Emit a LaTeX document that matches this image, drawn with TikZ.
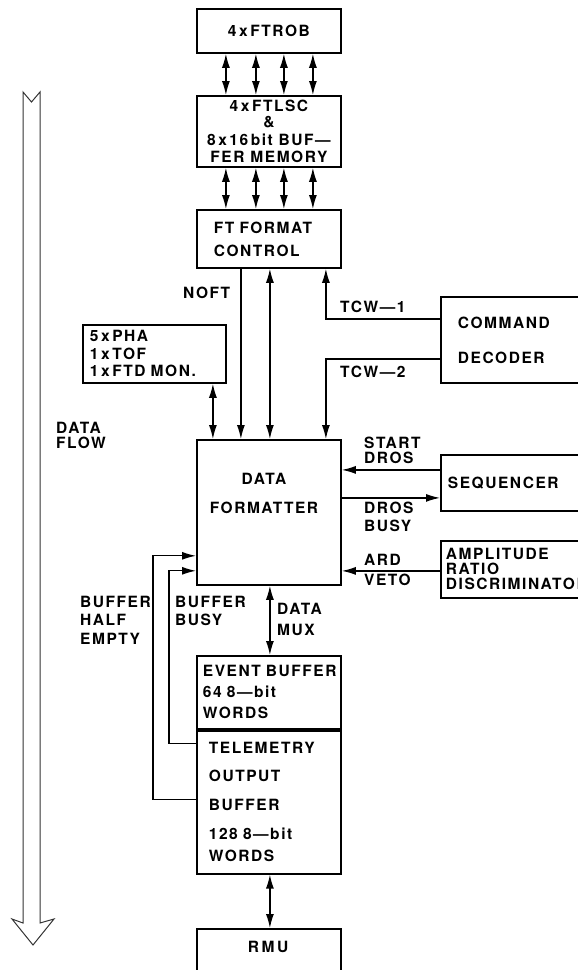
\documentclass[tikz,border=0pt]{standalone}
\usepackage{fontspec}
\newfontfamily\diagfont{TeX Gyre Heros}[LetterSpace=10,Ligatures=TeX]
\usetikzlibrary{arrows.meta,positioning}
\newcommand{\dfont}{\diagfont\bfseries\fontsize{15.5}{17.5}\selectfont}
\tikzset{
  blk/.style  = {draw, line width=1.8pt, inner sep=0pt, font=\dfont,
                 anchor=north west},
  txt/.style  = {font=\dfont, inner sep=0pt, align=left, anchor=west},
  arr/.style  = {-{Latex[length=14pt,width=8pt]}, line width=1.3pt},
  dbl/.style  = {{Latex[length=14pt,width=8pt]}-{Latex[length=14pt,width=8pt]},
                 line width=1.3pt},
  flow/.style = {line width=1pt, black!80, line join=miter},
}
\begin{document}
\begin{tikzpicture}[x=1pt,y=-1pt]
  \useasboundingbox (0,0) rectangle (578,970);
  \clip (0,0) rectangle (578,970);
  % front-end chain
  \node[blk, minimum width=144, minimum height=44] (ftrob) at (196,8) {4\,x\,FTROB};
  \node[blk, minimum width=144, minimum height=71, align=center] (ftlsc) at (196,95)
    {4\,x\,FTLSC\\[-1pt]\&\\8\,x\,16\,bit BUF---\\FER MEMORY};
  \node[blk, minimum width=144, minimum height=58, text width=110, align=left] (ftfc) at (196,209)
    {FT~FORMAT\\[5.5pt]CONTROL};
  \node[blk, minimum width=143, minimum height=58, text width=129, align=left] (pha) at (82,324)
    {5\,x\,PHA\\1\,x\,TOF\\1\,x\,FTD~MON.};
  % right hand units
  \node[blk, minimum width=200, minimum height=86, text width=166, align=left] (cmd) at (440,296)
    {COMMAND\\[17.5pt]DECODER};
  \node[blk, minimum width=200, minimum height=56, text width=186, align=left] (seq) at (440,454)
    {SEQUENCER};
  \node[blk, minimum width=200, minimum height=57, text width=190, align=left] (amp) at (440,540)
    {AMPLITUDE\\[-2.5pt]RATIO\\[-2.5pt]DISCRIMINATOR};
  % formatter and buffers
  \node[blk, minimum width=144, minimum height=145] (dfmt) at (196,439) {};
  \node[txt, align=center, anchor=center] (dfmtlbl) at (264,493.5) {DATA\\[11.5pt]FORMATTER};
  \node[blk, minimum width=144, minimum height=73, text width=132, align=left] (evb) at (196,655)
    {EVENT~BUFFER\\[3.5pt]64 8---bit\\[3.5pt]WORDS};
  \node[blk, minimum width=144, minimum height=143, text width=120, align=left,
        anchor=north] (tlm) at (evb.south)
    {TELEMETRY\\[10.5pt]OUTPUT\\[11.5pt]BUFFER\\[11.5pt]128 8---bit\\[4.5pt]WORDS};
  \node[blk, minimum width=144, minimum height=60] (rmu) at (196,928) {};
  \node[txt, anchor=center] (rmulbl) at (268,947) {R\,M\,U};
  % labels
  \node[txt] (noft) at (183,293) {NOFT};
  \node[txt] (tcwa) at (340,307) {TCW---1};
  \node[txt] (tcwb) at (340,372) {TCW---2};
  \node[txt] (startdros) at (364,450.5) {START\\[-2.5pt]DROS};
  \node[txt] (drosbusy) at (364,517) {DROS\\[0.5pt]BUSY};
  \node[txt] (ardveto) at (364,570) {ARD\\[2.5pt]VETO};
  \node[txt] (bufhalf) at (80,620) {BUFFER\\[1pt]HALF\\[1pt]EMPTY};
  \node[txt] (bufbusy) at (175,611) {BUFFER\\BUSY};
  \node[txt] (datamux) at (277,619.5) {DATA\\[3pt]MUX};
  \node[txt] (dataflow) at (56,435.5) {DATA\\[-2.5pt]FLOW};
  % connectors
  \foreach \dx in {-43,-13,15,44} {
    \draw[dbl] ([xshift=\dx]ftrob.south) -- ([xshift=\dx]ftlsc.north);
    \draw[dbl] ([xshift=\dx]ftlsc.south) -- ([xshift=\dx]ftfc.north);
  }
  \draw[arr] ([xshift=-28]ftfc.south) -- ([xshift=-28]dfmt.north);
  \draw[dbl] ([xshift=1]ftfc.south) -- ([xshift=1]dfmt.north);
  \coordinate (phain) at ([xshift=-56]dfmt.north);
  \draw[dbl] (phain |- pha.south) -- (phain);
  \draw[arr] ([yshift=21]cmd.west) -| ([xshift=57]ftfc.south);
  \draw[arr] ([yshift=-19]cmd.west) -| ([xshift=57]dfmt.north);
  \coordinate (sd) at ([yshift=13]seq.west);
  \coordinate (db) at ([yshift=-15]seq.west);
  \coordinate (av) at ([yshift=-1.5]amp.west);
  \draw[arr] (sd) -- (sd -| dfmt.east);
  \draw[arr] (db -| dfmt.east) -- (db);
  \draw[arr] (av) -- (av -| dfmt.east);
  \draw[dbl] ([xshift=1]dfmt.south) -- ([xshift=1]evb.north);
  \draw[dbl] ([xshift=1]tlm.south) -- ([xshift=1]rmu.north);
  \draw[arr] ([yshift=-14]tlm.north west) -- ++(-27,0) |- ([yshift=15]dfmt.south west);
  \draw[arr] ([yshift=-70]tlm.north west) -- ++(-43,0) |- ([yshift=30]dfmt.south west);
  % data flow arrow
  \draw[flow] (23,92) -- (23,923) -- (12,919) -- (33,945) -- (54,919) -- (40,923)
    -- (40,92) -- (31.5,102) -- cycle;
\end{tikzpicture}
\end{document}
